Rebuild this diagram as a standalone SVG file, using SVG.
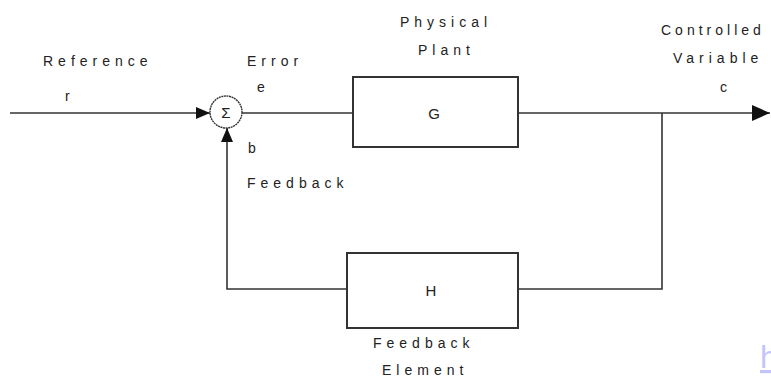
<svg xmlns="http://www.w3.org/2000/svg" width="771" height="379" viewBox="0 0 771 379">
<defs>
<marker id="arr" viewBox="0 0 14 14" refX="14" refY="7" markerWidth="14" markerHeight="14" markerUnits="userSpaceOnUse" orient="auto">
<path d="M0,1 L14,7 L0,13 Z" fill="#111"/>
</marker>
<marker id="arrBig" viewBox="0 0 18 16" refX="18" refY="8" markerWidth="18" markerHeight="16" markerUnits="userSpaceOnUse" orient="auto">
<path d="M0,0 L18,8 L0,16 Z" fill="#111"/>
</marker>
</defs>
<style>
.t{font-family:"Liberation Sans",Arial,sans-serif;font-size:14px;fill:#222;letter-spacing:5px}
.s{font-family:"Liberation Sans",Arial,sans-serif;font-size:15px;fill:#222;text-anchor:middle}
.box{fill:#fff;stroke:#333;stroke-width:2}
.ln{fill:none;stroke:#333;stroke-width:1.6}
</style>
<rect width="771" height="379" fill="#fff"/>
<g id="connectors">
<line class="ln" x1="10" y1="113" x2="210" y2="113" marker-end="url(#arr)"/>
<line class="ln" x1="242" y1="113" x2="353" y2="113"/>
<line class="ln" x1="518" y1="113" x2="770" y2="113" marker-end="url(#arrBig)"/>
<polyline class="ln" points="662,113 662,289 518,289"/>
<polyline class="ln" points="347,289 227,289 227,128" marker-end="url(#arr)"/>
</g>
<g id="sum">
<circle cx="226" cy="112" r="16" fill="#fff" stroke="#333" stroke-width="1.4" stroke-dasharray="2 0.6"/>
<text class="s" x="226" y="118">Σ</text>
</g>
<g id="G">
<rect class="box" x="353" y="77" width="165" height="70"/>
<text class="s" x="434" y="119">G</text>
</g>
<g id="H">
<rect class="box" x="347" y="253" width="171" height="75"/>
<text class="s" x="431" y="296">H</text>
</g>
<g id="labels">
<text class="t" x="43" y="66">Reference</text>
<text class="t" x="65" y="101">r</text>
<text class="t" x="247" y="66">Error</text>
<text class="t" x="257" y="92">e</text>
<text class="t" x="400" y="27">Physical</text>
<text class="t" x="418" y="55">Plant</text>
<text class="t" x="661" y="35" style="letter-spacing:4px">Controlled</text>
<text class="t" x="673" y="63">Variable</text>
<text class="t" x="720" y="92">c</text>
<text class="t" x="248" y="153">b</text>
<text class="t" x="247" y="188">Feedback</text>
<text class="t" x="373" y="348">Feedback</text>
<text class="t" x="382" y="375">Element</text>
<text x="760" y="368" style="font-family:'Liberation Sans',Arial,sans-serif;font-size:32px;fill:#c4c4fa;text-decoration:underline">h</text>
</g>
</svg>
